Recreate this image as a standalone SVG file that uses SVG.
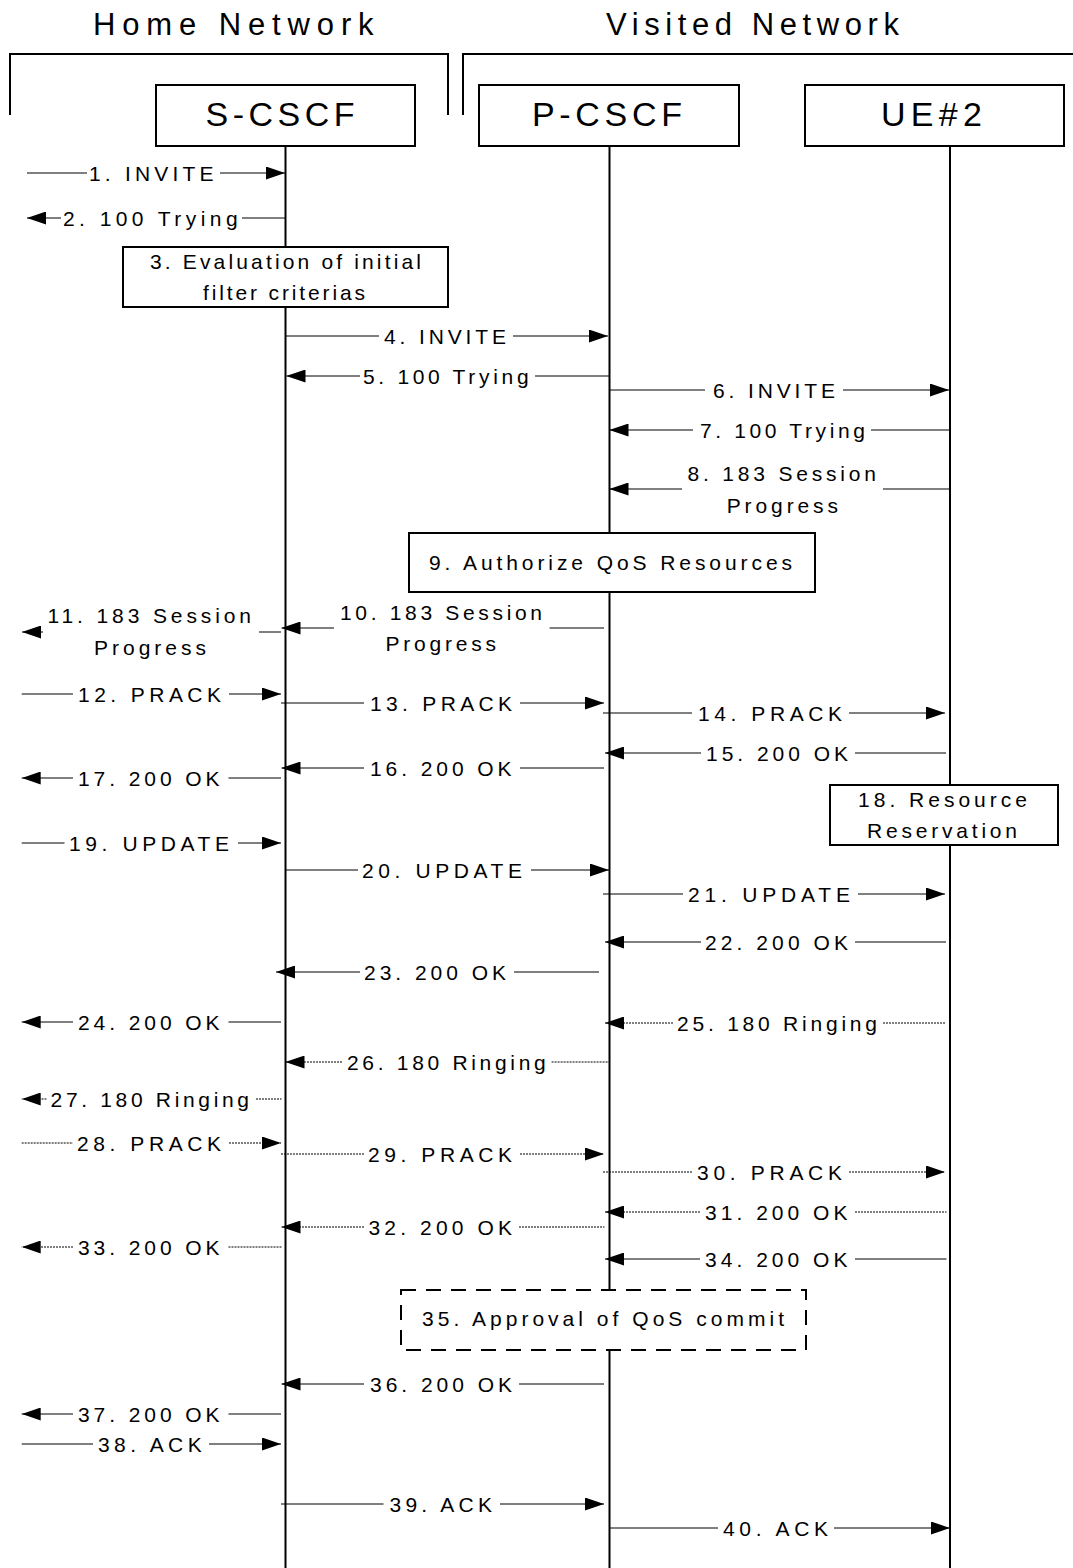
<svg xmlns="http://www.w3.org/2000/svg" width="1073" height="1568" viewBox="0 0 1073 1568">
<style>
text{font-family:"Liberation Sans",Arial,sans-serif;fill:#000}
.t{font-size:21px}
.ttl{font-size:31px}
.nl{font-size:34px}
.m{stroke:#000;stroke-width:1;fill:none}
.d{stroke-dasharray:2 1}
.life{stroke:#000;stroke-width:2}
.box{fill:#fff;stroke:#000;stroke-width:2}
.dash{stroke-dasharray:15 10}
.br{fill:none;stroke:#000;stroke-width:2}
</style>
<defs>
<marker id="ah" viewBox="0 0 19 13" markerWidth="19" markerHeight="13" refX="19" refY="6.5" orient="auto" markerUnits="userSpaceOnUse">
<path d="M0,0 L19,6.5 L0,13 Z" fill="#000"/>
</marker>
</defs>
<rect width="1073" height="1568" fill="#fff"/>

<g id="home-network">
<path class="br" d="M10,115 V54 H448 V115"/>
<text class="ttl" x="93" y="35" textLength="280.6" lengthAdjust="spacing">Home Network</text>
</g>
<g id="visited-network">
<path class="br" d="M463,115 V54 H1073"/>
<text class="ttl" x="606" y="35" textLength="293" lengthAdjust="spacing">Visited Network</text>
</g>

<g id="s-cscf">
<line class="life" x1="285.5" y1="146" x2="285.5" y2="1568"/>
<rect class="box" x="156" y="85" width="259" height="61"/>
<text class="nl" x="205.6" y="126" textLength="149" lengthAdjust="spacing">S-CSCF</text>
</g>
<g id="p-cscf">
<line class="life" x1="609.5" y1="146" x2="609.5" y2="1568"/>
<rect class="box" x="479" y="85" width="260" height="61"/>
<text class="nl" x="532" y="126" textLength="150" lengthAdjust="spacing">P-CSCF</text>
</g>
<g id="ue2">
<line class="life" x1="950" y1="146" x2="950" y2="1568"/>
<rect class="box" x="805" y="85" width="259" height="61"/>
<text class="nl" x="881" y="126" textLength="101" lengthAdjust="spacing">UE#2</text>
</g>

<g id="step3">
<rect class="box" x="123" y="247" width="325" height="60"/>
<text class="t" x="150" y="268.5" textLength="271" lengthAdjust="spacing">3. Evaluation of initial</text>
<text class="t" x="203" y="299.5" textLength="162" lengthAdjust="spacing">filter criterias</text>
</g>
<g id="step9">
<rect class="box" x="409" y="533" width="406" height="59"/>
<text class="t" x="429" y="569.5" textLength="363" lengthAdjust="spacing">9. Authorize QoS Resources</text>
</g>
<g id="step18">
<rect class="box" x="830" y="785" width="228" height="60"/>
<text class="t" x="858" y="806.5" textLength="169" lengthAdjust="spacing">18. Resource</text>
<text class="t" x="867" y="837.5" textLength="150" lengthAdjust="spacing">Reservation</text>
</g>
<g id="step35">
<rect class="box dash" x="401" y="1290" width="405" height="60"/>
<text class="t" x="422" y="1325.5" textLength="362" lengthAdjust="spacing">35. Approval of QoS commit</text>
</g>

<g id="connectors">
<g id="m1"><line class="m" x1="27" y1="173" x2="87" y2="173"/><line class="m" x1="220" y1="173" x2="285" y2="173" marker-end="url(#ah)"/><text class="t" x="89" y="180.5" textLength="124.5" lengthAdjust="spacing">1. INVITE</text></g>
<g id="m2"><line class="m" x1="61" y1="218" x2="27" y2="218" marker-end="url(#ah)"/><line class="m" x1="242" y1="218" x2="285" y2="218"/><text class="t" x="63" y="225.5" textLength="174.6" lengthAdjust="spacing">2. 100 Trying</text></g>
<g id="m4"><line class="m" x1="286" y1="336" x2="379" y2="336"/><line class="m" x1="513" y1="336" x2="608" y2="336" marker-end="url(#ah)"/><text class="t" x="384" y="343.5" textLength="122" lengthAdjust="spacing">4. INVITE</text></g>
<g id="m5"><line class="m" x1="360" y1="376" x2="286.5" y2="376" marker-end="url(#ah)"/><line class="m" x1="535" y1="376" x2="609" y2="376"/><text class="t" x="363" y="383.5" textLength="165.6" lengthAdjust="spacing">5. 100 Trying</text></g>
<g id="m6"><line class="m" x1="609" y1="390" x2="705" y2="390"/><line class="m" x1="843" y1="390" x2="949" y2="390" marker-end="url(#ah)"/><text class="t" x="713" y="397.5" textLength="122" lengthAdjust="spacing">6. INVITE</text></g>
<g id="m7"><line class="m" x1="693" y1="430" x2="609.5" y2="430" marker-end="url(#ah)"/><line class="m" x1="871" y1="430" x2="950" y2="430"/><text class="t" x="700" y="437.5" textLength="165" lengthAdjust="spacing">7. 100 Trying</text></g>
<g id="m8"><line class="m" x1="682" y1="489" x2="609.5" y2="489" marker-end="url(#ah)"/><line class="m" x1="883" y1="489" x2="950" y2="489"/><text class="t" x="687.5" y="480.5" textLength="188.5" lengthAdjust="spacing">8. 183 Session</text><text class="t" x="726.7" y="512.5" textLength="111.3" lengthAdjust="spacing">Progress</text></g>
<g id="m10"><line class="m" x1="334" y1="628" x2="281.5" y2="628" marker-end="url(#ah)"/><line class="m" x1="549.6" y1="628" x2="604" y2="628"/><text class="t" x="340" y="619.5" textLength="202" lengthAdjust="spacing">10. 183 Session</text><text class="t" x="385.5" y="650.5" textLength="110.5" lengthAdjust="spacing">Progress</text></g>
<g id="m11"><line class="m" x1="43" y1="632" x2="22" y2="632" marker-end="url(#ah)"/><line class="m" x1="259" y1="632" x2="281" y2="632"/><text class="t" x="47.5" y="622.5" textLength="203.5" lengthAdjust="spacing">11. 183 Session</text><text class="t" x="94" y="654.5" textLength="112" lengthAdjust="spacing">Progress</text></g>
<g id="m12"><line class="m" x1="21.7" y1="694" x2="73" y2="694"/><line class="m" x1="229" y1="694" x2="281" y2="694" marker-end="url(#ah)"/><text class="t" x="78" y="701.5" textLength="143" lengthAdjust="spacing">12. PRACK</text></g>
<g id="m13"><line class="m" x1="281" y1="703" x2="364" y2="703"/><line class="m" x1="520" y1="703" x2="604" y2="703" marker-end="url(#ah)"/><text class="t" x="370" y="710.5" textLength="142" lengthAdjust="spacing">13. PRACK</text></g>
<g id="m14"><line class="m" x1="603" y1="713" x2="692" y2="713"/><line class="m" x1="849" y1="713" x2="945" y2="713" marker-end="url(#ah)"/><text class="t" x="698" y="720.5" textLength="144" lengthAdjust="spacing">14. PRACK</text></g>
<g id="m15"><line class="m" x1="701" y1="753" x2="605" y2="753" marker-end="url(#ah)"/><line class="m" x1="855" y1="753" x2="946" y2="753"/><text class="t" x="706" y="760.5" textLength="142" lengthAdjust="spacing">15. 200 OK</text></g>
<g id="m16"><line class="m" x1="364" y1="768" x2="281.5" y2="768" marker-end="url(#ah)"/><line class="m" x1="520" y1="768" x2="604" y2="768"/><text class="t" x="370" y="775.5" textLength="141.6" lengthAdjust="spacing">16. 200 OK</text></g>
<g id="m17"><line class="m" x1="73" y1="778" x2="21.7" y2="778" marker-end="url(#ah)"/><line class="m" x1="228.5" y1="778" x2="281" y2="778"/><text class="t" x="78" y="785.5" textLength="141.5" lengthAdjust="spacing">17. 200 OK</text></g>
<g id="m19"><line class="m" x1="21.7" y1="843" x2="64.5" y2="843"/><line class="m" x1="238" y1="843" x2="281" y2="843" marker-end="url(#ah)"/><text class="t" x="69" y="850.5" textLength="160" lengthAdjust="spacing">19. UPDATE</text></g>
<g id="m20"><line class="m" x1="286" y1="870" x2="358" y2="870"/><line class="m" x1="531" y1="870" x2="609" y2="870" marker-end="url(#ah)"/><text class="t" x="362" y="877.5" textLength="160" lengthAdjust="spacing">20. UPDATE</text></g>
<g id="m21"><line class="m" x1="603" y1="894" x2="683" y2="894"/><line class="m" x1="858" y1="894" x2="945" y2="894" marker-end="url(#ah)"/><text class="t" x="688" y="901.5" textLength="162" lengthAdjust="spacing">21. UPDATE</text></g>
<g id="m22"><line class="m" x1="701" y1="942" x2="605" y2="942" marker-end="url(#ah)"/><line class="m" x1="855" y1="942" x2="946" y2="942"/><text class="t" x="705" y="949.5" textLength="143" lengthAdjust="spacing">22. 200 OK</text></g>
<g id="m23"><line class="m" x1="360" y1="972" x2="276" y2="972" marker-end="url(#ah)"/><line class="m" x1="514" y1="972" x2="599" y2="972"/><text class="t" x="364" y="979.5" textLength="142" lengthAdjust="spacing">23. 200 OK</text></g>
<g id="m24"><line class="m" x1="73" y1="1022" x2="21.7" y2="1022" marker-end="url(#ah)"/><line class="m" x1="228.5" y1="1022" x2="281" y2="1022"/><text class="t" x="78" y="1029.5" textLength="141.5" lengthAdjust="spacing">24. 200 OK</text></g>
<g id="m25"><line class="m d" x1="673" y1="1023" x2="605" y2="1023" marker-end="url(#ah)"/><line class="m d" x1="883" y1="1023" x2="946" y2="1023"/><text class="t" x="677" y="1030.5" textLength="200" lengthAdjust="spacing">25. 180 Ringing</text></g>
<g id="m26"><line class="m d" x1="342" y1="1062" x2="285.5" y2="1062" marker-end="url(#ah)"/><line class="m d" x1="551.6" y1="1062" x2="609" y2="1062"/><text class="t" x="347" y="1069.5" textLength="198.7" lengthAdjust="spacing">26. 180 Ringing</text></g>
<g id="m27"><line class="m d" x1="46.5" y1="1099" x2="21.7" y2="1099" marker-end="url(#ah)"/><line class="m d" x1="256" y1="1099" x2="281.5" y2="1099"/><text class="t" x="50.6" y="1106.5" textLength="198.4" lengthAdjust="spacing">27. 180 Ringing</text></g>
<g id="m28"><line class="m d" x1="21.7" y1="1143" x2="73" y2="1143"/><line class="m d" x1="229" y1="1143" x2="281" y2="1143" marker-end="url(#ah)"/><text class="t" x="77" y="1150.5" textLength="144" lengthAdjust="spacing">28. PRACK</text></g>
<g id="m29"><line class="m d" x1="281" y1="1154" x2="364" y2="1154"/><line class="m d" x1="520" y1="1154" x2="604" y2="1154" marker-end="url(#ah)"/><text class="t" x="368" y="1161.5" textLength="144" lengthAdjust="spacing">29. PRACK</text></g>
<g id="m30"><line class="m d" x1="603" y1="1172" x2="693" y2="1172"/><line class="m d" x1="849" y1="1172" x2="945" y2="1172" marker-end="url(#ah)"/><text class="t" x="697" y="1179.5" textLength="145" lengthAdjust="spacing">30. PRACK</text></g>
<g id="m31"><line class="m d" x1="700" y1="1212" x2="605" y2="1212" marker-end="url(#ah)"/><line class="m d" x1="855" y1="1212" x2="946.5" y2="1212"/><text class="t" x="705" y="1219.5" textLength="142.5" lengthAdjust="spacing">31. 200 OK</text></g>
<g id="m32"><line class="m d" x1="364" y1="1227" x2="281.5" y2="1227" marker-end="url(#ah)"/><line class="m d" x1="519" y1="1227" x2="604.5" y2="1227"/><text class="t" x="368.5" y="1234.5" textLength="143.5" lengthAdjust="spacing">32. 200 OK</text></g>
<g id="m33"><line class="m d" x1="73" y1="1247" x2="21.7" y2="1247" marker-end="url(#ah)"/><line class="m d" x1="228.5" y1="1247" x2="281.5" y2="1247"/><text class="t" x="78" y="1254.5" textLength="141.5" lengthAdjust="spacing">33. 200 OK</text></g>
<g id="m34"><line class="m" x1="700" y1="1259" x2="605" y2="1259" marker-end="url(#ah)"/><line class="m" x1="855" y1="1259" x2="946.5" y2="1259"/><text class="t" x="705" y="1266.5" textLength="142.5" lengthAdjust="spacing">34. 200 OK</text></g>
<g id="m36"><line class="m" x1="364" y1="1384" x2="281.5" y2="1384" marker-end="url(#ah)"/><line class="m" x1="519" y1="1384" x2="604" y2="1384"/><text class="t" x="370" y="1391.5" textLength="142" lengthAdjust="spacing">36. 200 OK</text></g>
<g id="m37"><line class="m" x1="73" y1="1414" x2="21.7" y2="1414" marker-end="url(#ah)"/><line class="m" x1="228.5" y1="1414" x2="281" y2="1414"/><text class="t" x="78" y="1421.5" textLength="141.5" lengthAdjust="spacing">37. 200 OK</text></g>
<g id="m38"><line class="m" x1="21.7" y1="1444" x2="93" y2="1444"/><line class="m" x1="209" y1="1444" x2="281" y2="1444" marker-end="url(#ah)"/><text class="t" x="98" y="1451.5" textLength="103.7" lengthAdjust="spacing">38. ACK</text></g>
<g id="m39"><line class="m" x1="281" y1="1504" x2="383.5" y2="1504"/><line class="m" x1="500" y1="1504" x2="604" y2="1504" marker-end="url(#ah)"/><text class="t" x="389.5" y="1511.5" textLength="102.5" lengthAdjust="spacing">39. ACK</text></g>
<g id="m40"><line class="m" x1="610" y1="1528" x2="718" y2="1528"/><line class="m" x1="834" y1="1528" x2="950" y2="1528" marker-end="url(#ah)"/><text class="t" x="723" y="1535.5" textLength="105" lengthAdjust="spacing">40. ACK</text></g>
</g>
</svg>
